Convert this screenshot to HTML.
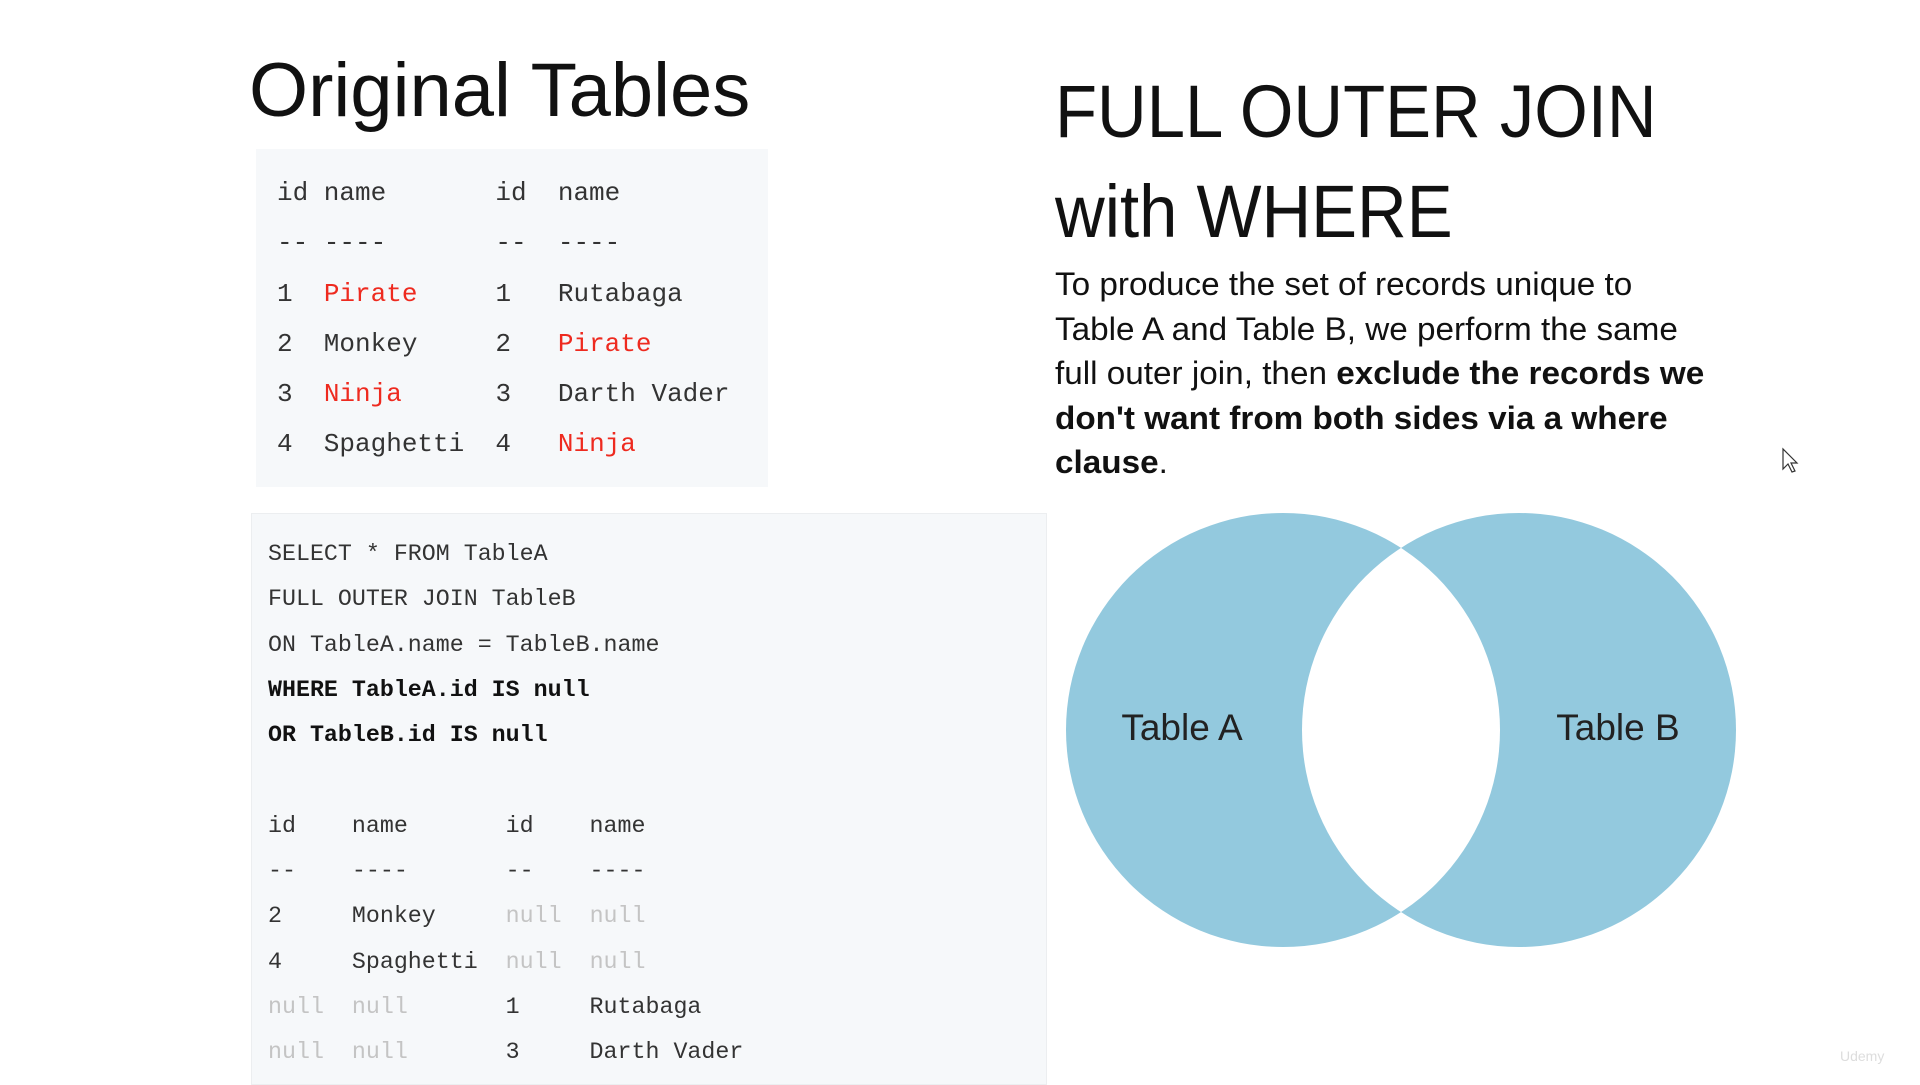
<!DOCTYPE html>
<html><head><meta charset="utf-8"><style>
body{margin:0;width:1920px;height:1080px;background:#fff;position:relative;overflow:hidden;font-family:"Liberation Sans",sans-serif;color:#111}
.abs{position:absolute;white-space:nowrap}
.mono{font-family:"Liberation Mono",monospace;color:#333}
.r{color:#ee2a1f}
.g{color:#c4c4c4}
pre.abs{margin:0;white-space:pre}
</style></head><body>
<div class="abs" style="left:249px;top:46px;font-size:76px;line-height:90px;">Original Tables</div>

<div class="abs" style="left:256px;top:149px;width:512px;height:338px;background:#f6f8fa"></div>
<pre class="abs mono" style="left:277px;top:168px;font-size:26px;line-height:50.3px;">id name       id  name
-- ----       --  ----
1  <span class="r">Pirate</span>     1   Rutabaga
2  Monkey     2   <span class="r">Pirate</span>
3  <span class="r">Ninja</span>      3   Darth Vader
4  Spaghetti  4   <span class="r">Ninja</span></pre>

<div class="abs" style="left:251px;top:513px;width:794px;height:570px;background:#f6f8fa;border:1px solid #eceef0"></div>
<pre class="abs mono" style="left:268px;top:532px;font-size:23.3px;line-height:45.3px;">SELECT * FROM TableA
FULL OUTER JOIN TableB
ON TableA.name = TableB.name
<b style="color:#111">WHERE TableA.id IS null</b>
<b style="color:#111">OR TableB.id IS null</b>

id    name       id    name
--    ----       --    ----
2     Monkey     <span class="g">null</span>  <span class="g">null</span>
4     Spaghetti  <span class="g">null</span>  <span class="g">null</span>
<span class="g">null</span>  <span class="g">null</span>       1     Rutabaga
<span class="g">null</span>  <span class="g">null</span>       3     Darth Vader</pre>

<div class="abs" style="left:1055px;top:62px;font-size:74px;line-height:100px;transform:scaleX(0.93);transform-origin:left top">FULL OUTER JOIN<br>with WHERE</div>

<div class="abs" style="left:1055px;top:262px;font-size:32px;line-height:44.6px;transform:scaleX(1.04);transform-origin:left top">To produce the set of records unique to<br>Table A and Table B, we perform the same<br>full outer join, then <b>exclude the records we</b><br><b>don't want from both sides via a where</b><br><b>clause</b>.</div>

<svg class="abs" style="left:0;top:0" width="1920" height="1080">
<circle cx="1283" cy="730" r="217" fill="#93c9de"/>
<circle cx="1519" cy="730" r="217" fill="#93c9de"/>
<clipPath id="c"><circle cx="1283" cy="730" r="217"/></clipPath>
<circle cx="1519" cy="730" r="217" fill="#fff" clip-path="url(#c)"/>
<text x="1182" y="740" font-family="Liberation Sans" font-size="37" text-anchor="middle" fill="#222">Table A</text>
<text x="1618" y="740" font-family="Liberation Sans" font-size="37" text-anchor="middle" fill="#222">Table B</text>
<path d="M1783 449 L1783 469 L1788 464 L1792 472 L1795 471 L1791 463 L1797 463 Z" fill="#fff" stroke="#333" stroke-width="1.2"/>
</svg>
<div class="abs" style="left:1840px;top:1048px;font-size:14px;color:#ddd">Udemy</div>
</body></html>
